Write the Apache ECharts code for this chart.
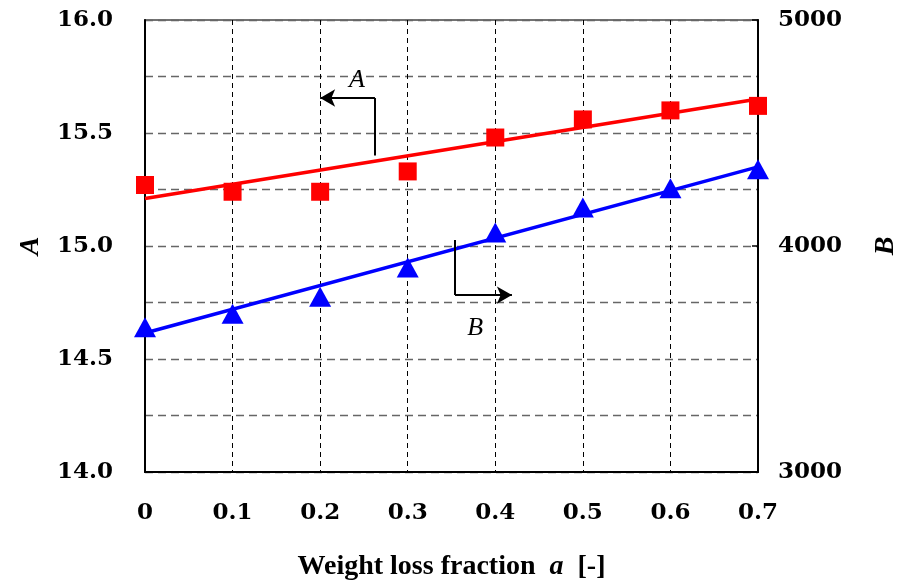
<!DOCTYPE html>
<html>
<head>
<meta charset="utf-8">
<script src="https://cdn.jsdelivr.net/npm/echarts@6/dist/echarts.min.js"></script>
<style>
  html, body { margin: 0; padding: 0; background: #fff; }
  #chart { width: 898px; height: 585px; }
</style>
</head>
<body>
<div id="chart"></div>
<script>
// Weight loss fraction a
const fractions = [0, 0.1, 0.2, 0.3, 0.4, 0.5, 0.6, 0.7];
// Parameter A (left axis)
const valuesA = [15.27, 15.24, 15.24, 15.33, 15.48, 15.56, 15.60, 15.62];
// Parameter B (right axis)
const valuesB = [3640, 3700, 3775, 3905, 4060, 4170, 4255, 4340];
// Fitted straight lines: [a, value] at both ends
const fitA = [[0, 15.21], [0.7, 15.65]];
const fitB = [[0, 3615], [0.7, 4350]];

const tickFont = 'DejaVu Serif';
const titleFont = 'Liberation Serif';

const pairs = (xs, ys) => xs.map((x, i) => [x, ys[i]]);

const chart = echarts.init(document.getElementById('chart'), null, { renderer: 'canvas' });

const option = {
  animation: false,
  backgroundColor: '#ffffff',
  grid: {
    left: 145, right: 140, top: 20, bottom: 113,
    containLabel: false, outerBoundsMode: 'none',
    show: true, borderColor: '#444', borderWidth: 1.5
  },
  xAxis: {
    type: 'value', min: 0, max: 0.7, interval: 0.1,
    name: '{b|Weight loss fraction}{i|  a  }{b|[-]}',
    nameLocation: 'middle', nameGap: 81,
    nameTextStyle: {
      rich: {
        b: { fontFamily: titleFont, fontWeight: 'bold', fontSize: 28, color: '#000' },
        i: { fontFamily: titleFont, fontWeight: 'bold', fontStyle: 'italic', fontSize: 28, color: '#000' }
      }
    },
    axisLine: { show: true, lineStyle: { color: '#000', width: 2 } },
    axisTick: { show: false },
    axisLabel: {
      margin: 30, color: '#000', fontFamily: tickFont, fontWeight: 'bold', fontSize: 23,
      formatter: v => (v === 0 ? '0' : v.toFixed(1))
    },
    splitLine: { show: true, lineStyle: { color: '#000', width: 1, type: [5, 4] } }
  },
  yAxis: [
    {
      type: 'value', min: 14, max: 16, interval: 0.25,
      name: 'A', nameLocation: 'middle', nameGap: 100, nameRotate: 90,
      nameTextStyle: { fontFamily: titleFont, fontWeight: 'bold', fontStyle: 'italic', fontSize: 28, color: '#000' },
      axisLine: { show: true, lineStyle: { color: '#000', width: 2 } },
      axisTick: { show: false },
      axisLabel: {
        margin: 32, color: '#000', fontFamily: tickFont, fontWeight: 'bold', fontSize: 23,
        formatter: v => (Math.abs(v * 2 - Math.round(v * 2)) < 1e-6 ? v.toFixed(1) : '')
      },
      splitLine: { show: true, lineStyle: { color: '#666', width: 1.3, type: [8, 5] } }
    },
    {
      type: 'value', min: 3000, max: 5000, interval: 1000, position: 'right',
      name: 'B', nameLocation: 'middle', nameGap: 114, nameRotate: 90,
      nameTextStyle: { fontFamily: titleFont, fontWeight: 'bold', fontStyle: 'italic', fontSize: 28, color: '#000' },
      axisLine: { show: true, lineStyle: { color: '#000', width: 2 } },
      axisTick: { show: true, inside: true, length: 6, lineStyle: { color: '#000', width: 1.5 } },
      axisLabel: {
        margin: 20, color: '#000', fontFamily: tickFont, fontWeight: 'bold', fontSize: 23,
        formatter: v => String(v)
      },
      splitLine: { show: false }
    }
  ],
  series: [
    {
      name: 'A fit', type: 'line', yAxisIndex: 0, data: fitA,
      symbol: 'none', lineStyle: { color: '#ff0000', width: 3.5 }, z: 3,
      markLine: {
        silent: true, symbol: 'none',
        lineStyle: { color: '#000', width: 2, type: 'solid' },
        label: { show: false },
        data: [
          [{ coord: [0.2626, 15.40] }, { coord: [0.2626, 15.655] }],
          [{ coord: [0.2626, 15.655] }, { coord: [0.2, 15.655], symbol: 'arrow', symbolSize: [13, 15] }]
        ]
      }
    },
    {
      name: 'A', type: 'scatter', yAxisIndex: 0, data: pairs(fractions, valuesA),
      symbol: 'rect', symbolSize: 18, itemStyle: { color: '#ff0000', opacity: 1 }, z: 4
    },
    {
      name: 'B fit', type: 'line', yAxisIndex: 1, data: fitB,
      symbol: 'none', lineStyle: { color: '#0000ff', width: 3.5 }, z: 3,
      markLine: {
        silent: true, symbol: 'none',
        lineStyle: { color: '#000', width: 2, type: 'solid' },
        label: { show: false },
        data: [
          [{ coord: [0.354, 4027] }, { coord: [0.354, 3783] }],
          [{ coord: [0.354, 3783] }, { coord: [0.419, 3783], symbol: 'arrow', symbolSize: [13, 15] }]
        ]
      }
    },
    {
      name: 'B', type: 'scatter', yAxisIndex: 1, data: pairs(fractions, valuesB),
      symbol: 'triangle', symbolSize: [22, 20], itemStyle: { color: '#0000ff', opacity: 1 }, z: 4
    },
    {
      // italic captions next to the arrows
      name: 'captions', type: 'scatter', yAxisIndex: 0, silent: true,
      symbol: 'circle', symbolSize: 2, itemStyle: { color: 'rgba(255,255,255,0)', opacity: 1 },
      data: [
        { value: [0.242, 15.735], label: { formatter: 'A' } },
        { value: [0.377, 14.635], label: { formatter: 'B' } }
      ],
      label: {
        show: true, position: 'inside', color: '#000', opacity: 1, textBorderWidth: 0,
        fontFamily: titleFont, fontStyle: 'italic', fontSize: 26
      },
      z: 5
    }
  ]
};

chart.setOption(option);
</script>
</body>
</html>
